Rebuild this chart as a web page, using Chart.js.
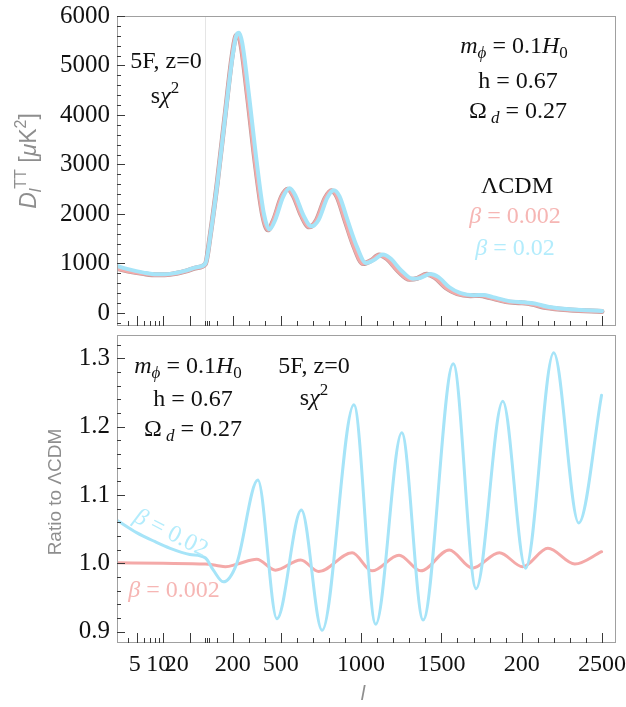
<!DOCTYPE html>
<html>
<head>
<meta charset="utf-8">
<script src="https://cdn.jsdelivr.net/npm/chart.js@4.4.0/dist/chart.umd.min.js"></script>
<style>
  html, body { margin: 0; padding: 0; background: #fff; }
  #wrap { position: relative; width: 626px; height: 707px; }
  #wrap canvas { position: absolute; left: 0; }
</style>
</head>
<body>
<div id="wrap">
  <canvas id="spectrum" width="626" height="331" style="top:0"></canvas>
  <canvas id="ratio" width="626" height="376" style="top:331px"></canvas>
</div>
<script>
// ---- data ---------------------------------------------------------------

// LCDM TT spectrum, D_l [muK^2]; beta = 0.002 sits on it at this scale
const lLcdm = [3, 4, 6, 8.4, 12, 18, 24, 30, 60, 105, 155, 195, 218, 232, 252, 292, 342, 387, 420, 455,
  505, 543, 578, 628, 676, 721, 776, 815, 850, 900, 958, 1012, 1062, 1112, 1160, 1230, 1300, 1350,
  1408, 1458, 1528, 1598, 1680, 1738, 1800, 1900, 2000, 2060, 2150, 2300, 2500];
const dlLcdm = [900, 845, 795, 770, 780, 845, 915, 990, 1560, 2650, 4050, 5150, 5580, 5620, 5420, 4400, 3000, 1980, 1680, 1880,
  2350, 2500, 2370, 1970, 1740, 1870, 2320, 2470, 2350, 1870, 1320, 1000, 1060, 1170, 1100, 850, 680, 700,
  780, 720, 510, 390, 350, 355, 310, 230, 205, 180, 110, 60, 30];

// beta = 0.02
const lB02 = [3, 4, 6, 8.4, 12, 18, 24, 30, 65, 110, 160, 200, 225, 240, 260, 300, 350, 395, 430, 465,
  515, 555, 590, 640, 690, 735, 790, 830, 865, 915, 975, 1030, 1080, 1135, 1180, 1250, 1320, 1370,
  1430, 1480, 1550, 1620, 1700, 1760, 1820, 1920, 2020, 2080, 2170, 2320, 2500];
const dlB02 = [950, 885, 815, 780, 790, 855, 925, 1000, 1650, 2750, 4150, 5200, 5620, 5660, 5450, 4450, 3050, 2000, 1690, 1880,
  2350, 2520, 2380, 1980, 1750, 1880, 2330, 2480, 2360, 1880, 1330, 1010, 1070, 1180, 1110, 860, 690, 710,
  790, 730, 520, 400, 360, 365, 320, 240, 215, 190, 120, 70, 40];

// ratio to LCDM
const lRatio002 = [3, 10, 30, 100, 155, 230, 350, 466, 624, 736, 944, 1068, 1236, 1372, 1549, 1693, 1861, 2006, 2163, 2331, 2497];
const ratio002 = [1.001, 1.0, 0.999, 0.997, 0.995, 0.999, 1.006, 0.990, 1.005, 0.988, 1.0155, 0.989, 1.012, 0.989, 1.0195, 0.993, 1.0155, 0.995, 1.022, 0.999, 1.017];

const lRatio02 = [3, 5, 8, 12, 20, 30, 80, 142, 226, 357, 476, 628, 757, 955, 1091, 1253, 1386, 1574, 1716, 1882, 2024, 2199, 2355, 2497];
const ratio02 = [1.063, 1.045, 1.032, 1.022, 1.013, 1.008, 0.990, 0.973, 1.0, 1.122, 0.919, 1.078, 0.902, 1.232, 0.911, 1.191, 0.917, 1.292, 0.963, 1.237, 0.993, 1.308, 1.059, 1.246];

// axis ticks
const dlTicks = [0, 1000, 2000, 3000, 4000, 5000, 6000];
const ratioTicks = [0.9, 1.0, 1.1, 1.2, 1.3];
const lLabelAt = [4.75, 8.8, 14.2, 200, 500, 1000, 1500, 2000, 2500];
const lLabelText = ['5', '10', '20', '200', '500', '1000', '1500', '200', '2500'];
const lMajor = [5, 10, 20, 200, 500, 1000, 1500, 2000, 2500];
const lMinor = [4, 6, 7, 8, 9, 30, 40, 50, 100, 300, 400, 600, 700, 800, 900, 1100, 1200, 1300, 1400,
  1600, 1700, 1800, 1900, 2100, 2200, 2300, 2400];

// ---- helpers ------------------------------------------------------------

// log in l below 30, linear above
const toU = l => l >= 30 ? l - 30 : 550 * Math.log10(l / 30);
const U_MIN = toU(3), U_MAX = toU(2587);
const pts = (ls, vs) => ls.map((l, i) => ({ x: toU(l), y: vs[i] }));

const PINK = '#f4a9a8', CYAN = '#a6e4f8';
const PINK_TXT = '#f6b6b4', CYAN_TXT = '#b3ecfc';
const serif = '"Liberation Serif", "Times New Roman", serif';
const sans = '"Liberation Sans", Arial, sans-serif';

function drawRich(ctx, t) {
  const size = t.size || 24, family = t.family || serif;
  const fontFor = p => (p.it ? 'italic ' : '') + (p.pos ? Math.round(size * 0.7) : size) + 'px ' + family;
  let w = 0;
  t.parts.forEach(p => { ctx.font = fontFor(p); w += ctx.measureText(p.t).width; });
  ctx.save();
  ctx.translate(t.x, t.y);
  if (t.rot) ctx.rotate(t.rot * Math.PI / 180);
  ctx.fillStyle = t.color || '#111';
  ctx.textAlign = 'left';
  ctx.textBaseline = 'alphabetic';
  let cx = -w / 2;
  t.parts.forEach(p => {
    ctx.font = fontFor(p);
    const dy = p.pos === 1 ? -size * 0.42 : p.pos === -1 ? size * 0.22 : 0;
    ctx.fillText(p.t, cx, dy);
    cx += ctx.measureText(p.t).width;
  });
  ctx.restore();
}

const mPhi = [{ t: 'm', it: 1 }, { t: 'ϕ', it: 1, pos: -1 }, { t: ' = 0.1' }, { t: 'H', it: 1 }, { t: '0', pos: -1 }];
const hLine = [{ t: 'h = 0.67' }];
const omega = [{ t: 'Ω' }, { t: ' d', it: 1, pos: -1 }, { t: ' = 0.27' }];
const fiveF = [{ t: '5F, z=0' }];
const sChi = [{ t: 's' }, { t: 'χ', it: 1 }, { t: '2', pos: 1 }];
const beta = v => [{ t: 'β', it: 1 }, { t: ' = ' + v }];

// frame with inward ticks plus the panel's text
function framePlugin(yMajor, yMinor, texts) {
  return {
    id: 'frame',
    afterDatasetsDraw(chart) {
      const { ctx, chartArea: a, scales: { x, y } } = chart;
      ctx.save();
      ctx.strokeStyle = '#a0a0a0';
      ctx.lineWidth = 1;
      ctx.strokeRect(a.left + 0.5, a.top + 0.5, a.width - 1, a.height - 1);
      ctx.strokeStyle = '#3a3a3a';
      ctx.beginPath();
      const xTick = (l, len) => {
        const px = Math.round(x.getPixelForValue(toU(l))) + 0.5;
        ctx.moveTo(px, a.bottom); ctx.lineTo(px, a.bottom - len);
      };
      lMajor.forEach(l => xTick(l, 10));
      lMinor.forEach(l => xTick(l, 5));
      const yTick = (v, len) => {
        const py = Math.round(y.getPixelForValue(v)) + 0.5;
        ctx.moveTo(a.left, py); ctx.lineTo(a.left + len, py);
      };
      yMajor.forEach(v => yTick(v, 8));
      yMinor.forEach(v => yTick(v, 4));
      ctx.stroke();
      ctx.restore();
      texts.forEach(t => drawRich(ctx, t));
    }
  };
}

const yMinorDl = [];
for (let v = -200; v <= 6000; v += 200) if (v % 1000) yMinorDl.push(v);
const yMinorRatio = [];
for (let k = 45; k <= 66; k++) if (k % 5) yMinorRatio.push(k / 50);

const common = {
  responsive: false,
  animation: false,
  elements: { point: { radius: 0 }, line: { cubicInterpolationMode: 'monotone', borderCapStyle: 'round' } },
  plugins: { legend: { display: false }, tooltip: { enabled: false } }
};

// ---- top: D_l^TT ----------------------------------------------------------
// lower `order` is painted last, so beta = 0.02 ends up on top

new Chart(document.getElementById('spectrum'), {
  type: 'line',
  data: {
    datasets: [
      { label: 'ΛCDM', data: pts(lLcdm, dlLcdm), borderColor: 'rgba(140,70,70,0.55)', borderWidth: 5, order: 3 },
      { label: 'β = 0.002', data: pts(lLcdm, dlLcdm), borderColor: PINK, borderWidth: 3.8, order: 2 },
      { label: 'β = 0.02', data: pts(lB02, dlB02), borderColor: CYAN, borderWidth: 4, order: 1 }
    ]
  },
  options: {
    ...common,
    layout: { padding: { left: 0, top: 16, right: 10, bottom: 5 } },
    scales: {
      x: {
        type: 'linear', min: U_MIN, max: U_MAX,
        afterBuildTicks: s => { s.ticks = [{ value: 0 }]; },
        ticks: { display: false },
        grid: { drawTicks: false, color: 'rgba(0,0,0,0.1)' },
        border: { display: false },
        afterFit: s => { s.height = 0; s.paddingLeft = 0; s.paddingRight = 0; }
      },
      y: {
        min: -263, max: 6000,
        afterBuildTicks: s => { s.ticks = dlTicks.map(v => ({ value: v })); },
        ticks: { font: { family: serif, size: 25 }, color: '#111', padding: 7, callback: v => String(v) },
        grid: { display: false, drawTicks: false },
        border: { display: false },
        afterFit: s => { s.width = 117; s.paddingTop = 0; s.paddingBottom = 0; }
      }
    }
  },
  plugins: [framePlugin(dlTicks, yMinorDl, [
    { parts: fiveF, x: 166, y: 68 },
    { parts: sChi, x: 165, y: 103 },
    { parts: mPhi, x: 514, y: 53 },
    { parts: hLine, x: 518, y: 88 },
    { parts: omega, x: 518, y: 118 },
    { parts: [{ t: 'ΛCDM' }], x: 517, y: 193 },
    { parts: beta('0.002'), x: 515, y: 223, color: PINK_TXT },
    { parts: beta('0.02'), x: 515, y: 255, color: CYAN_TXT },
    { parts: [{ t: 'D', it: 1 }, { t: 'l', it: 1, pos: -1 }, { t: 'TT', pos: 1 }, { t: ' [' }, { t: 'μ', it: 1 }, { t: 'K' }, { t: '2', pos: 1 }, { t: ']' }],
      x: 36, y: 161, rot: -90, size: 23, family: sans, color: '#8e8e8e' }
  ])]
});

// ---- bottom: ratio to LCDM ----------------------------------------------

new Chart(document.getElementById('ratio'), {
  type: 'line',
  data: {
    datasets: [
      { label: 'β = 0.002', data: pts(lRatio002, ratio002), borderColor: PINK, borderWidth: 3, order: 2 },
      { label: 'β = 0.02', data: pts(lRatio02, ratio02), borderColor: CYAN, borderWidth: 3, order: 1 }
    ]
  },
  options: {
    ...common,
    layout: { padding: { left: 0, top: 4, right: 10, bottom: 29 } },
    scales: {
      x: {
        type: 'linear', min: U_MIN, max: U_MAX,
        afterBuildTicks: s => { s.ticks = lLabelAt.map(l => ({ value: toU(l) })); },
        ticks: { font: { family: serif, size: 24 }, color: '#111', padding: 7, autoSkip: false, maxRotation: 0,
          callback: (v, i) => lLabelText[i] },
        grid: { display: false, drawTicks: false },
        border: { display: false },
        afterFit: s => { s.height = 35; s.paddingLeft = 0; s.paddingRight = 0; }
      },
      y: {
        min: 0.8835, max: 1.334,
        afterBuildTicks: s => { s.ticks = ratioTicks.map(v => ({ value: v })); },
        ticks: { font: { family: serif, size: 25 }, color: '#111', padding: 7, callback: v => v.toFixed(1) },
        grid: { display: false, drawTicks: false },
        border: { display: false },
        afterFit: s => { s.width = 117; s.paddingTop = 0; s.paddingBottom = 0; }
      }
    }
  },
  plugins: [framePlugin(ratioTicks, yMinorRatio, [
    { parts: mPhi, x: 188, y: 42 },
    { parts: hLine, x: 193, y: 75 },
    { parts: omega, x: 193, y: 105 },
    { parts: fiveF, x: 314, y: 42 },
    { parts: sChi, x: 314, y: 74 },
    { parts: beta('0.02'), x: 168, y: 208, rot: 27, color: CYAN_TXT },
    { parts: beta('0.002'), x: 174, y: 266, color: PINK_TXT },
    { parts: [{ t: 'Ratio to ΛCDM' }], x: 61, y: 161, rot: -90, size: 19, family: sans, color: '#8e8e8e' },
    { parts: [{ t: 'l', it: 1 }], x: 363, y: 369, size: 20, family: sans, color: '#8e8e8e' }
  ])]
});
</script>
</body>
</html>
